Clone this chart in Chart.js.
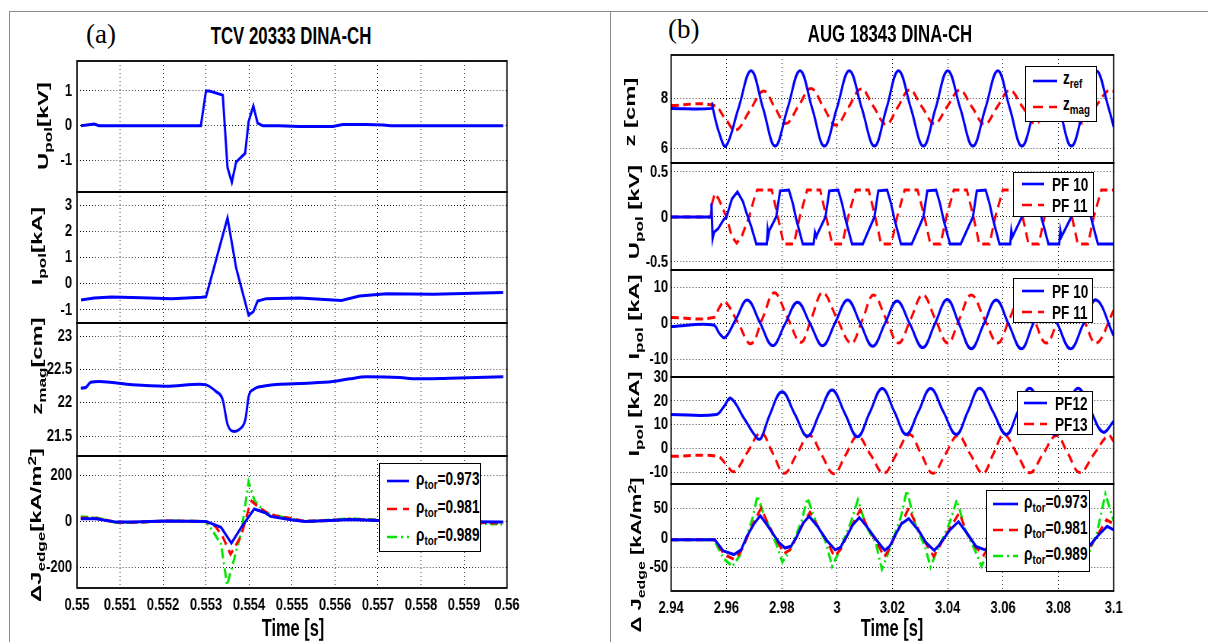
<!DOCTYPE html>
<html>
<head>
<meta charset="utf-8">
<script src="https://cdn.jsdelivr.net/npm/chart.js@4.4.1/dist/chart.umd.min.js"></script>
<style>
body{margin:0;width:1208px;height:642px;background:#fff;position:relative;overflow:hidden;
  font-family:'Liberation Sans',Arial,sans-serif;font-weight:bold;color:#000;}
.box{position:absolute;border:1px solid #8a8a8a;}
.plot{position:absolute;transform-origin:0 0;}
.txt{position:absolute;white-space:nowrap;line-height:1;font-size:21px;}
.ylab{position:absolute;white-space:nowrap;line-height:1;font-size:17px;}
.serif{font-family:'Liberation Serif','Times New Roman',serif;font-weight:normal;font-size:27px;}
sub{font-size:72%;position:relative;top:0.3em;vertical-align:baseline;line-height:0;}
sup{font-size:72%;position:relative;top:-0.45em;vertical-align:baseline;line-height:0;}
.leg{position:absolute;background:#fff;border:1.5px solid #000;}
.leg svg{position:absolute;}
.leg span{position:absolute;white-space:nowrap;line-height:1;font-size:17px;transform:scale(0.8,1.1);transform-origin:0 50%;}
</style>
</head>
<body>
<div class="box" style="left:9px;top:11px;width:600px;height:640px"></div>
<div class="box" style="left:610px;top:11px;width:610px;height:640px"></div>
<script>
// ---- (a) TCV 20333 DINA-CH ----
const tcvTimeTicks = [0.55, 0.551, 0.552, 0.553, 0.554, 0.555, 0.556, 0.557, 0.558, 0.559, 0.56];
const tcvTimeLabels = ['0.55', '0.551', '0.552', '0.553', '0.554', '0.555', '0.556', '0.557', '0.558', '0.559', '0.56'];

const tcvUpol = [[0.55009,0],[0.5504,0.05],[0.55051,0],[0.55288,0],[0.5530,1.0],[0.55308,1.0],[0.55339,0.88],
  [0.5535,-1.2],[0.5536,-1.62],[0.5537,-1.04],[0.55391,-0.79],[0.55399,0.12],[0.5541,0.57],[0.5542,0.08],
  [0.55432,0],[0.5547,0],[0.55517,-0.02],[0.55595,-0.02],[0.55618,0.04],[0.55673,0.04],[0.55712,0.02],[0.5573,0],[0.55991,0]];
const tcvIpol = [[0.55009,-0.62],[0.5504,-0.55],[0.5508,-0.51],[0.5515,-0.54],[0.5522,-0.57],[0.5529,-0.52],[0.5530,-0.5],
  [0.5535,2.51],[0.5537,0.61],[0.55399,-1.2],[0.5541,-1.07],[0.5542,-0.66],[0.5544,-0.57],[0.55517,-0.55],
  [0.55615,-0.64],[0.55657,-0.47],[0.5572,-0.38],[0.55829,-0.4],[0.55991,-0.34]];
const tcvZmag = [[0.550086,22.22],[0.550203,22.23],[0.550319,22.31],[0.550513,22.32],[0.551289,22.27],[0.552068,22.25],
  [0.552844,22.28],[0.553,22.27],[0.553233,22.17],[0.553387,22.05],[0.553503,21.67],[0.55366,21.57],[0.553776,21.6],
  [0.553916,21.75],[0.553993,22.1],[0.554103,22.2],[0.554319,22.25],[0.555175,22.29],[0.555951,22.32],[0.55634,22.36],
  [0.55673,22.39],[0.557506,22.38],[0.557895,22.36],[0.558671,22.37],[0.559914,22.39]];
const tcvJ973 = [[0.550086,12],[0.55044,12],[0.55091,-3],[0.55129,-3],[0.55207,2],[0.553,0],[0.55335,-26],[0.55359,-95],
  [0.55382,-26],[0.55412,54],[0.55436,39],[0.5545,22],[0.55497,7],[0.5553,0],[0.5559,4],[0.55634,8],[0.5570,4],[0.5585,0],[0.55991,-3]];
const tcvJ981 = [[0.550086,15],[0.55044,14],[0.55091,-4],[0.55129,-4],[0.55207,2],[0.553,0],[0.55322,-22],[0.55338,-63],
  [0.55357,-143],[0.55382,-63],[0.55399,54],[0.55406,88],[0.55423,61],[0.5545,28],[0.55497,13],[0.5553,0],[0.5559,5],
  [0.55634,10],[0.5570,5],[0.5585,0],[0.55991,-8]];
const tcvJ989 = [[0.550086,20],[0.55044,16],[0.55091,-5],[0.55129,-5],[0.55207,2],[0.553,0],[0.55315,-41],[0.55335,-99],
  [0.55349,-278],[0.55382,-48],[0.55399,172],[0.55413,90],[0.55436,39],[0.55463,25],[0.55497,10],[0.5553,0],[0.5559,6],
  [0.55634,12],[0.5570,6],[0.5585,-2],[0.55991,-12]];

// ---- (b) AUG 18343 DINA-CH ----
const augTimeTicks = [2.94, 2.96, 2.98, 3.0, 3.02, 3.04, 3.06, 3.08, 3.1];
const augTimeLabels = ['2.94', '2.96', '2.98', '3', '3.02', '3.04', '3.06', '3.08', '3.1'];

const augZref = [[2.94,7.6],[2.9547,7.6],[2.9549,7.8],[2.9551,7.6],[2.9574,6.6],[2.9598,6.08],[2.96435,7.6],[2.9689,9.12],
  [2.97325,7.6],[2.9776,6.08],[2.9821,7.6],[2.9866,9.12],[2.9910,7.6],[2.9954,6.08],[2.9999,7.6],[3.0044,9.12],[3.00895,7.6],
  [3.0135,6.08],[3.01785,7.6],[3.0222,9.12],[3.0267,7.6],[3.0312,6.08],[3.0356,7.6],[3.0400,9.12],[3.04455,7.6],[3.0491,6.08],
  [3.0536,7.6],[3.0581,9.12],[3.06245,7.6],[3.0668,6.08],[3.0714,7.6],[3.0760,9.12],[3.08035,7.6],[3.0847,6.08],[3.0892,7.6],
  [3.0937,9.12],[3.0982,7.6],[3.1,6.85]];
const augZmag = [[2.94,7.72],[2.9555,7.72],[2.9595,7.2],[2.9634,6.72],[2.9684,7.5],[2.9734,8.3],[2.97745,7.65],[2.9815,6.99],
  [2.98605,7.7],[2.9906,8.4],[2.9951,7.65],[2.9996,6.92],[3.00415,7.65],[3.0087,8.38],[3.0132,7.67],[3.0177,6.96],[3.02195,7.65],
  [3.0262,8.34],[3.0307,7.66],[3.0352,6.99],[3.03975,7.66],[3.0443,8.33],[3.0488,7.65],[3.0533,6.96],[3.05785,7.65],[3.0624,8.33],
  [3.06705,7.66],[3.0717,6.99],[3.0761,7.66],[3.0805,8.33],[3.0847,7.66],[3.0889,6.99],[3.0934,7.66],[3.0980,8.33],[3.1,8.3]];

const augUpf10 = [[2.94,0],[2.9544,0],[2.9546,0.15],[2.9550,-0.24],[2.9555,-0.17],[2.9570,-0.13],[2.9590,-0.03],[2.9600,0],
  [2.9620,0.2],[2.9640,0.28],[2.9660,0.17],[2.9672,0.05],[2.9690,-0.11],[2.9708,-0.3],[2.9746,-0.3],[2.9749,-0.14],[2.9752,-0.2],
  [2.9755,-0.15],[2.9780,0],[2.9794,0.29],[2.9826,0.3],[2.9840,0.15],[2.9852,-0.02],[2.9876,-0.3],[2.9915,-0.3],[2.9920,-0.17],
  [2.9925,-0.22],[2.9930,-0.18],[2.9958,0],[2.9972,0.29],[3.0004,0.3],[3.0018,0.15],[3.0030,-0.02],[3.0054,-0.3],[3.0093,-0.3],
  [3.0135,0],[3.0149,0.29],[3.0181,0.3],[3.0195,0.15],[3.0207,-0.02],[3.0231,-0.3],[3.0270,-0.3],[3.0312,0],[3.0326,0.29],
  [3.0358,0.3],[3.0372,0.15],[3.0384,-0.02],[3.0408,-0.3],[3.0447,-0.3],[3.0491,0],[3.0505,0.29],[3.0537,0.3],[3.0551,0.15],
  [3.0563,-0.02],[3.0587,-0.3],[3.0626,-0.3],[3.0630,-0.15],[3.0634,-0.22],[3.0668,0],[3.0682,0.29],[3.0714,0.3],[3.0728,0.15],
  [3.0740,-0.02],[3.0764,-0.3],[3.0803,-0.3],[3.0807,-0.15],[3.0811,-0.22],[3.0847,0],[3.0861,0.29],[3.0893,0.3],[3.0907,0.15],
  [3.0919,-0.02],[3.0943,-0.3],[3.1,-0.3]];
const augUpf11 = [[2.94,0],[2.9543,0],[2.9548,0.15],[2.9558,0.26],[2.9572,0.2],[2.9600,0],[2.9620,-0.22],[2.9637,-0.29],
  [2.9655,-0.22],[2.9682,0],[2.9700,0.2],[2.9711,0.3],[2.9764,0.3],[2.9786,0],[2.9807,-0.3],[2.9844,-0.3],[2.9865,0],
  [2.9892,0.3],[2.9939,0.3],[2.9961,0],[2.9982,-0.3],[3.0019,-0.3],[3.0040,0],[3.0067,0.3],[3.0114,0.3],[3.0138,0],
  [3.0159,-0.3],[3.0196,-0.3],[3.0217,0],[3.0244,0.3],[3.0291,0.3],[3.0316,0],[3.0337,-0.3],[3.0374,-0.3],[3.0395,0],
  [3.0422,0.3],[3.0469,0.3],[3.0493,0],[3.0514,-0.3],[3.0551,-0.3],[3.0572,0],[3.0599,0.3],[3.0646,0.3],[3.0671,0],
  [3.0692,-0.3],[3.0729,-0.3],[3.0750,0],[3.0777,0.3],[3.0824,0.3],[3.0849,0],[3.0870,-0.3],[3.0907,-0.3],[3.0928,0],
  [3.0955,0.3],[3.1,0.3]];

const augIpf10 = [[2.94,-0.84],[2.9553,-0.4],[2.9575,-2.8],[2.9595,-3.9],[2.9635,1.3],[2.9676,6.5],[2.97215,0.2],[2.9767,-6.15],
  [2.9812,-0.1],[2.9857,5.87],[2.99025,-0.1],[2.9948,-6.15],[2.9993,0.2],[3.0038,6.5],[3.00835,0.1],[3.0129,-6.3],[3.0173,0],
  [3.0217,6.2],[3.02635,-0.2],[3.0310,-6.7],[3.0354,0],[3.0398,6.67],[3.0441,-0.1],[3.0485,-6.97],[3.0530,-0.2],[3.0575,6.5],
  [3.06205,-0.2],[3.0666,-7.0],[3.0708,-0.2],[3.0750,6.5],[3.0797,-0.2],[3.0844,-7.0],[3.0890,-0.2],[3.0937,6.5],[3.1,-3.4]];
const augIpf11 = [[2.94,1.64],[2.9553,1.64],[2.9575,4.5],[2.9595,6.04],[2.9642,0.2],[2.96885,-5.6],[2.9731,1.5],[2.9773,8.5],
  [2.9821,1.6],[2.9869,-5.2],[2.9908,1.6],[2.9948,8.5],[2.9999,1.5],[3.0051,-5.4],[3.0092,1.2],[3.0132,7.9],[3.0177,1.2],
  [3.0222,-5.4],[3.0266,1.2],[3.0310,7.9],[3.0355,1.2],[3.0400,-5.4],[3.0442,1.2],[3.0485,7.9],[3.0533,1.2],[3.0581,-5.4],
  [3.0623,1.2],[3.0666,7.9],[3.0711,1.2],[3.0756,-5.4],[3.0800,1.2],[3.0845,7.9],[3.0891,1.2],[3.0937,-5.4],[3.1,3.6]];

const augIpf12 = [[2.94,14.3],[2.9564,14.3],[2.9590,17.5],[2.9616,21.1],[2.9664,12.6],[2.9712,4.2],[2.9726,4.5],[2.9756,14],
  [2.9801,23.8],[2.9847,14.5],[2.9893,5.2],[2.9937,14.9],[2.9982,24.6],[3.0028,14.8],[3.0074,5.0],[3.0118,15.1],[3.0163,25.2],
  [3.0207,15.5],[3.0250,5.9],[3.0294,15.5],[3.0338,25.2],[3.0384,15.5],[3.0431,5.9],[3.0473,15.6],[3.0515,25.3],[3.0563,15.6],
  [3.0612,5.9],[3.0654,15.6],[3.0696,25.3],[3.0741,15.6],[3.0786,5.9],[3.0828,15.6],[3.0871,25.3],[3.0916,16],[3.0961,6.9],[3.1,11.5]];
const augIpf13 = [[2.94,-3.2],[2.9568,-3.2],[2.9598,-6.5],[2.9628,-9.6],[2.9676,-1.5],[2.9725,6.6],[2.9767,-1.8],[2.9809,-10.3],
  [2.9854,-2.4],[2.9900,5.5],[2.9944,-2.5],[2.9988,-10.5],[3.0031,-2.6],[3.0074,5.2],[3.0121,-2.5],[3.0169,-10.3],[3.0215,-2.2],
  [3.0262,5.9],[3.0304,-2.2],[3.0346,-10.3],[3.0391,-2.4],[3.0437,5.5],[3.0482,-2.4],[3.0527,-10.3],[3.0565,-2.2],[3.0603,5.9],
  [3.0650,-2.1],[3.0696,-10.1],[3.0744,-2.3],[3.0793,5.5],[3.0835,-2.2],[3.0877,-10],[3.0929,-2.2],[3.0980,5.5],[3.1,3.1]];

const augJ973 = [[2.94,-3],[2.9558,-3],[2.9589,-22],[2.9627,-28],[2.9653,-20],[2.9674,3],[2.9701,25],[2.9722,38],[2.9743,25],
  [2.9770,6],[2.9791,-8],[2.9812,-17],[2.9833,-14],[2.9855,3],[2.9876,25],[2.9899,37],[2.9929,20],[2.9961,-3],[2.9993,-20],
  [3.0012,-16],[3.0035,3],[3.0056,22],[3.0080,35],[3.0110,18],[3.0142,-3],[3.0172,-21],[3.0190,-14],[3.0208,3],[3.0232,24],
  [3.0259,33],[3.0293,14],[3.0322,-8],[3.0351,-21],[3.0369,-12],[3.0387,0],[3.0410,15],[3.0439,28],[3.0470,8],[3.0502,-14],
  [3.0535,-20],[3.0560,-8],[3.0590,12],[3.0617,27],[3.0650,6],[3.0685,-14],[3.0712,-20],[3.0740,-6],[3.0768,12],[3.0795,27],
  [3.0828,6],[3.0862,-14],[3.0893,-20],[3.0918,-10],[3.0945,5],[3.0976,20],[3.1,14]];
const augJ981 = [[2.94,-3],[2.9558,-3],[2.9592,-28],[2.9627,-36],[2.9650,-25],[2.9674,0],[2.9700,28],[2.9725,51],[2.9745,30],
  [2.9770,6],[2.9791,-12],[2.9809,-26],[2.9830,-20],[2.9855,3],[2.9878,25],[2.9902,44],[2.9930,20],[2.9961,-3],[2.9990,-31],
  [3.0012,-20],[3.0035,3],[3.0058,25],[3.0083,48],[3.0110,18],[3.0142,-5],[3.0170,-32],[3.0190,-18],[3.0208,2],[3.0235,27],
  [3.0259,51],[3.0293,15],[3.0322,-10],[3.0349,-31],[3.0369,-15],[3.0387,0],[3.0412,20],[3.0442,43],[3.0470,8],[3.0502,-16],
  [3.0530,-29],[3.0560,-10],[3.0590,15],[3.0617,40],[3.0650,6],[3.0685,-16],[3.0712,-29],[3.0740,-8],[3.0768,15],[3.0795,40],
  [3.0828,6],[3.0862,-16],[3.0893,-29],[3.0918,-12],[3.0945,8],[3.0974,31],[3.1,24]];
const augJ989 = [[2.94,-3],[2.9555,-3],[2.9590,-35],[2.9622,-48],[2.9648,-30],[2.9672,0],[2.9695,35],[2.9712,72],[2.9735,40],
  [2.9765,8],[2.9788,-20],[2.9802,-41],[2.9825,-25],[2.9850,3],[2.9872,30],[2.9893,68],[2.9925,25],[2.9958,-5],[2.9982,-48],
  [3.0005,-25],[3.0030,3],[3.0052,30],[3.0075,65],[3.0105,20],[3.0140,-8],[3.0162,-53],[3.0185,-25],[3.0205,2],[3.0230,35],
  [3.0252,81],[3.0285,20],[3.0318,-15],[3.0338,-49],[3.0362,-20],[3.0385,2],[3.0408,28],[3.0433,65],[3.0465,12],[3.0498,-20],
  [3.0522,-48],[3.0555,-15],[3.0585,20],[3.0612,62],[3.0645,8],[3.0680,-22],[3.0705,-48],[3.0735,-12],[3.0762,20],[3.0790,62],
  [3.0822,8],[3.0858,-22],[3.0885,-48],[3.0915,-20],[3.0940,10],[3.0970,75],[3.1,29]];

const rhoValues = ['0.973', '0.981', '0.989'];
const pfUpolNames = ['PF 10', 'PF 11'];
const pfLowNames = ['PF12', 'PF13'];

const FONT = "'Liberation Sans',Arial,sans-serif";
const BLUE = '#0000ff', RED = '#ff0000', GREEN = '#00e600';
const SOLID = [], DASH = [10, 6], DASHDOT = [10, 4, 2, 4];
// canvases are drawn wider and squeezed horizontally so the bold labels look condensed
const SX = 0.76;

const framePlugin = {
    id: 'frame',
    afterDraw(chart){
        const a = chart.chartArea, ctx = chart.ctx;
        ctx.save();
        ctx.strokeStyle = '#000';
        ctx.lineWidth = 1.8;
        ctx.strokeRect(a.left, a.top, a.right - a.left, a.bottom - a.top);
        ctx.restore();
    }
};

function plot(p){
    const TP = 10, RP = 24;
    const BP = p.bottom ? 0 : 10;
    const XH = p.bottom ? 32 : 0;
    const wrap = document.createElement('div');
    wrap.className = 'plot';
    wrap.style.left = (p.x - p.yw) + 'px';
    wrap.style.top = (p.y - TP) + 'px';
    wrap.style.width = ((p.w + p.yw + RP) / SX) + 'px';
    wrap.style.height = (p.h + TP + BP + XH) + 'px';
    wrap.style.transform = 'scaleX(' + SX + ')';
    const cv = document.createElement('canvas');
    wrap.appendChild(cv);
    document.body.appendChild(wrap);

    const tickFont = {family: FONT, size: 17, weight: 'bold'};
    new Chart(cv, {
        type: 'line',
        data: {
            datasets: p.series.map(s => ({
                data: s.data.map(d => ({x: d[0], y: d[1]})),
                borderColor: s.color,
                borderWidth: 3,
                borderDash: s.dash,
                pointRadius: 0,
                fill: false,
                tension: s.smooth === 'sine' ? 0.4 : 0,
                cubicInterpolationMode: s.smooth === 'mono' ? 'monotone' : 'default'
            }))
        },
        options: {
            responsive: true,
            maintainAspectRatio: false,
            animation: false,
            layout: {padding: {top: TP, right: RP / SX, bottom: BP, left: 0}},
            plugins: {legend: {display: false}, tooltip: {enabled: false}},
            scales: {
                x: {
                    type: 'linear',
                    min: p.xmin, max: p.xmax,
                    afterBuildTicks: s => { s.ticks = p.xticks.map(v => ({value: v})); },
                    afterFit: s => { s.height = XH; s.paddingLeft = 0; s.paddingRight = 0; },
                    grid: {color: '#000', lineWidth: 1, drawTicks: false},
                    border: {display: false, dash: [1, 3]},
                    ticks: {
                        display: !!p.bottom, padding: 7, color: '#000', font: tickFont,
                        autoSkip: false, maxRotation: 0,
                        callback: (v, i) => p.xlabels[i]
                    }
                },
                y: {
                    min: p.ymin, max: p.ymax,
                    afterBuildTicks: s => { s.ticks = p.yticks.map(v => ({value: v})); },
                    afterFit: s => { s.width = p.yw / SX; s.paddingTop = 0; s.paddingBottom = 0; },
                    grid: {color: '#000', lineWidth: 1, drawTicks: false},
                    border: {display: false, dash: [1, 3]},
                    ticks: {padding: p.ypad / SX, color: '#000', font: tickFont, callback: v => String(v)}
                }
            }
        },
        plugins: [framePlugin]
    });
}

function text(html, x, y, cls, extra){
    const d = document.createElement('div');
    d.className = cls;
    d.innerHTML = html;
    d.style.left = x + 'px';
    d.style.top = y + 'px';
    d.style.transform = extra;
    document.body.appendChild(d);
}

function ylabel(html, cx, cy, sc){
    text(html, cx, cy, 'ylab', 'translate(-50%,-50%) rotate(-90deg) scale(' + (sc || 1.4) + ',0.9)');
}

function legend(x, y, w, h, lx0, lx1, tx, rows){
    const d = document.createElement('div');
    d.className = 'leg';
    d.style.left = x + 'px'; d.style.top = y + 'px';
    d.style.width = w + 'px'; d.style.height = h + 'px';
    rows.forEach(r => {
        const svg = '<svg style="left:' + lx0 + 'px;top:' + (r.y - 5) + 'px" width="' + (lx1 - lx0) + '" height="10">' +
            '<line x1="0" y1="5" x2="' + (lx1 - lx0) + '" y2="5" stroke="' + r.color + '" stroke-width="2.6" stroke-dasharray="' +
            (r.dash.length ? r.dash.join(' ') : 'none') + '"/></svg>';
        d.insertAdjacentHTML('beforeend', svg +
            '<span style="left:' + tx + 'px;top:' + (r.y - 8 + r.dy) + 'px">' + r.html + '</span>');
    });
    document.body.appendChild(d);
}

// ---- left column ----
const LX = 77, LW = 430, LYW = 60;
const tcvX = {x: LX, w: LW, yw: LYW, ypad: 5, xmin: 0.55, xmax: 0.56, xticks: tcvTimeTicks, xlabels: tcvTimeLabels};
plot(Object.assign({}, tcvX, {y: 61, h: 131, ymin: -1.9, ymax: 1.86, yticks: [-1, 0, 1],
    series: [{data: tcvUpol, color: BLUE, dash: SOLID}]}));
plot(Object.assign({}, tcvX, {y: 192, h: 131, ymin: -1.5, ymax: 3.5, yticks: [-1, 0, 1, 2, 3],
    series: [{data: tcvIpol, color: BLUE, dash: SOLID}]}));
plot(Object.assign({}, tcvX, {y: 323, h: 133, ymin: 21.2, ymax: 23.2, yticks: [21.5, 22, 22.5, 23],
    series: [{data: tcvZmag, color: BLUE, dash: SOLID, smooth: 'mono'}]}));
plot(Object.assign({}, tcvX, {y: 456, h: 132, ymin: -290, ymax: 285, yticks: [-200, 0, 200], bottom: true,
    series: [{data: tcvJ973, color: BLUE, dash: SOLID}, {data: tcvJ981, color: RED, dash: DASH},
             {data: tcvJ989, color: GREEN, dash: DASHDOT}]}));

// ---- right column ----
const RX = 671, RW = 442, RYW = 56;
const augX = {x: RX, w: RW, yw: RYW, ypad: 3, xmin: 2.94, xmax: 3.1, xticks: augTimeTicks, xlabels: augTimeLabels};
plot(Object.assign({}, augX, {y: 55, h: 108, ymin: 5.4, ymax: 9.75, yticks: [6, 8],
    series: [{data: augZref, color: BLUE, dash: SOLID, smooth: 'sine'}, {data: augZmag, color: RED, dash: DASH, smooth: 'sine'}]}));
plot(Object.assign({}, augX, {y: 163, h: 107, ymin: -0.59, ymax: 0.6, yticks: [-0.5, 0, 0.5],
    series: [{data: augUpf10, color: BLUE, dash: SOLID}, {data: augUpf11, color: RED, dash: DASH}]}));
plot(Object.assign({}, augX, {y: 270, h: 107, ymin: -14.8, ymax: 14.8, yticks: [-10, 0, 10],
    series: [{data: augIpf10, color: BLUE, dash: SOLID, smooth: 'sine'}, {data: augIpf11, color: RED, dash: DASH, smooth: 'sine'}]}));
plot(Object.assign({}, augX, {y: 377, h: 107, ymin: -14.8, ymax: 30, yticks: [-10, 0, 10, 20, 30],
    series: [{data: augIpf12, color: BLUE, dash: SOLID, smooth: 'sine'}, {data: augIpf13, color: RED, dash: DASH, smooth: 'sine'}]}));
plot(Object.assign({}, augX, {y: 484, h: 107, ymin: -90, ymax: 92, yticks: [-50, 0, 50], bottom: true,
    series: [{data: augJ973, color: BLUE, dash: SOLID}, {data: augJ981, color: RED, dash: DASH},
             {data: augJ989, color: GREEN, dash: DASHDOT}]}));

// ---- titles and axis labels ----
text('(a)', 86, 21, 'txt serif', '');
text('(b)', 668, 16, 'txt serif', '');
text('TCV 20333 DINA-CH', 291, 35, 'txt', 'translate(-50%,-50%) scale(0.8,1.15)');
text('AUG 18343 DINA-CH', 890, 33, 'txt', 'translate(-50%,-50%) scale(0.8,1.15)');
text('Time [s]', 293, 627, 'txt', 'translate(-50%,-50%) scale(0.78,1.15)');
text('Time [s]', 892, 627, 'txt', 'translate(-50%,-50%) scale(0.78,1.15)');

ylabel('U<sub>pol</sub>[kV]', 43, 126);
ylabel('I<sub>pol</sub>[kA]', 37, 246);
ylabel('z<sub>mag</sub>[cm]', 37, 366);
ylabel('&Delta;J<sub>edge</sub>[kA/m<sup>2</sup>]', 36, 525);

ylabel('z [cm]', 630, 112);
ylabel('U<sub>pol</sub> [kV]', 634, 212);
ylabel('I<sub>pol</sub> [kA]', 634, 317);
ylabel('I<sub>pol</sub> [kA]', 634, 414);
ylabel('&Delta; J<sub>edge</sub> [kA/m<sup>2</sup>]', 636, 555, 1.3);

// ---- legends ----
const rhoRows = (ys) => rhoValues.map((v, i) => ({
    y: ys[i], dy: -3, color: [BLUE, RED, GREEN][i], dash: [SOLID, DASH, DASHDOT][i],
    html: '&rho;<sub>tor</sub>=' + v
}));
legend(379, 463, 100, 87, 7, 29, 36, rhoRows([17, 45, 73]));
legend(986, 490, 102, 80, 6, 31, 37, rhoRows([13, 39, 65]));
legend(1025, 66, 70, 54, 7, 31, 37, [
    {y: 14, dy: -4, color: BLUE, dash: SOLID, html: 'z<sub>ref</sub>'},
    {y: 40, dy: -4, color: RED, dash: DASH, html: 'z<sub>mag</sub>'}]);
legend(1013, 172, 79, 43, 8, 30, 38, pfUpolNames.map((n, i) => ({y: [11, 32][i], dy: 0, color: [BLUE, RED][i], dash: [SOLID, DASH][i], html: n})));
legend(1013, 278, 78, 43, 8, 30, 38, pfUpolNames.map((n, i) => ({y: [12, 33][i], dy: 0, color: [BLUE, RED][i], dash: [SOLID, DASH][i], html: n})));
legend(1017, 391, 74, 42, 6, 29, 37, pfLowNames.map((n, i) => ({y: [11, 32][i], dy: 0, color: [BLUE, RED][i], dash: [SOLID, DASH][i], html: n})));
</script>
</body>
</html>
